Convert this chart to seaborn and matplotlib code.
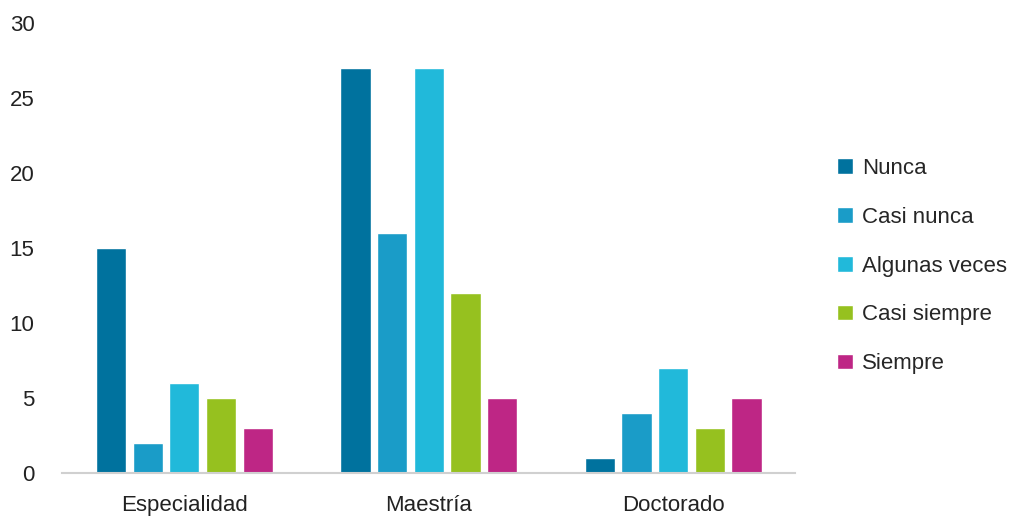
import matplotlib
matplotlib.use("Agg")
import matplotlib.pyplot as plt
import pandas as pd
import seaborn as sns

niveles = ['Especialidad', 'Maestría', 'Doctorado']
respuestas = ['Nunca', 'Casi nunca', 'Algunas veces', 'Casi siempre', 'Siempre']
nunca = [15, 27, 1]
casi_nunca = [2, 16, 4]
algunas_veces = [6, 27, 7]
casi_siempre = [5, 12, 3]
siempre = [3, 5, 5]
colores = ['#00729E', '#1A9CC8', '#21B9DA', '#96C11F', '#BE2685']

series = [nunca, casi_nunca, algunas_veces, casi_siempre, siempre]
rows = []
for resp, vals in zip(respuestas, series):
    for nivel, v in zip(niveles, vals):
        rows.append({'Nivel': nivel, 'Respuesta': resp, 'Valor': v})
df = pd.DataFrame(rows)

sns.set_style('white')
plt.rcParams['font.family'] = ['Liberation Sans', 'DejaVu Sans']

fig = plt.figure(figsize=(10.21, 5.2), dpi=100)
ax = fig.add_axes([0.061, 0.090, 0.718, 0.866])

sns.barplot(data=df, x='Nivel', y='Valor', hue='Respuesta', hue_order=respuestas,
            palette=colores, width=0.75, gap=0.18, saturation=1, ax=ax)

ax.set_ylim(0, 30)
ax.set_yticks(range(0, 31, 5))
ax.set_xlim(-0.5, 2.5)
ax.set_xlabel('')
ax.set_ylabel('')
ax.tick_params(axis='both', length=0, labelsize=16, colors='#222222')
ax.tick_params(axis='y', pad=20)
ax.tick_params(axis='x', pad=16)
for s in ['top', 'right', 'left']:
    ax.spines[s].set_visible(False)
ax.spines['bottom'].set_color('#D0D0D0')
ax.spines['bottom'].set_linewidth(1.5)

leg = ax.legend(loc='center left', bbox_to_anchor=(1.03, 0.46), frameon=False,
                fontsize=16, handlelength=0.7, handleheight=0.7, handletextpad=0.4,
                labelspacing=1.25)

fig.savefig('out.png', dpi=100)
